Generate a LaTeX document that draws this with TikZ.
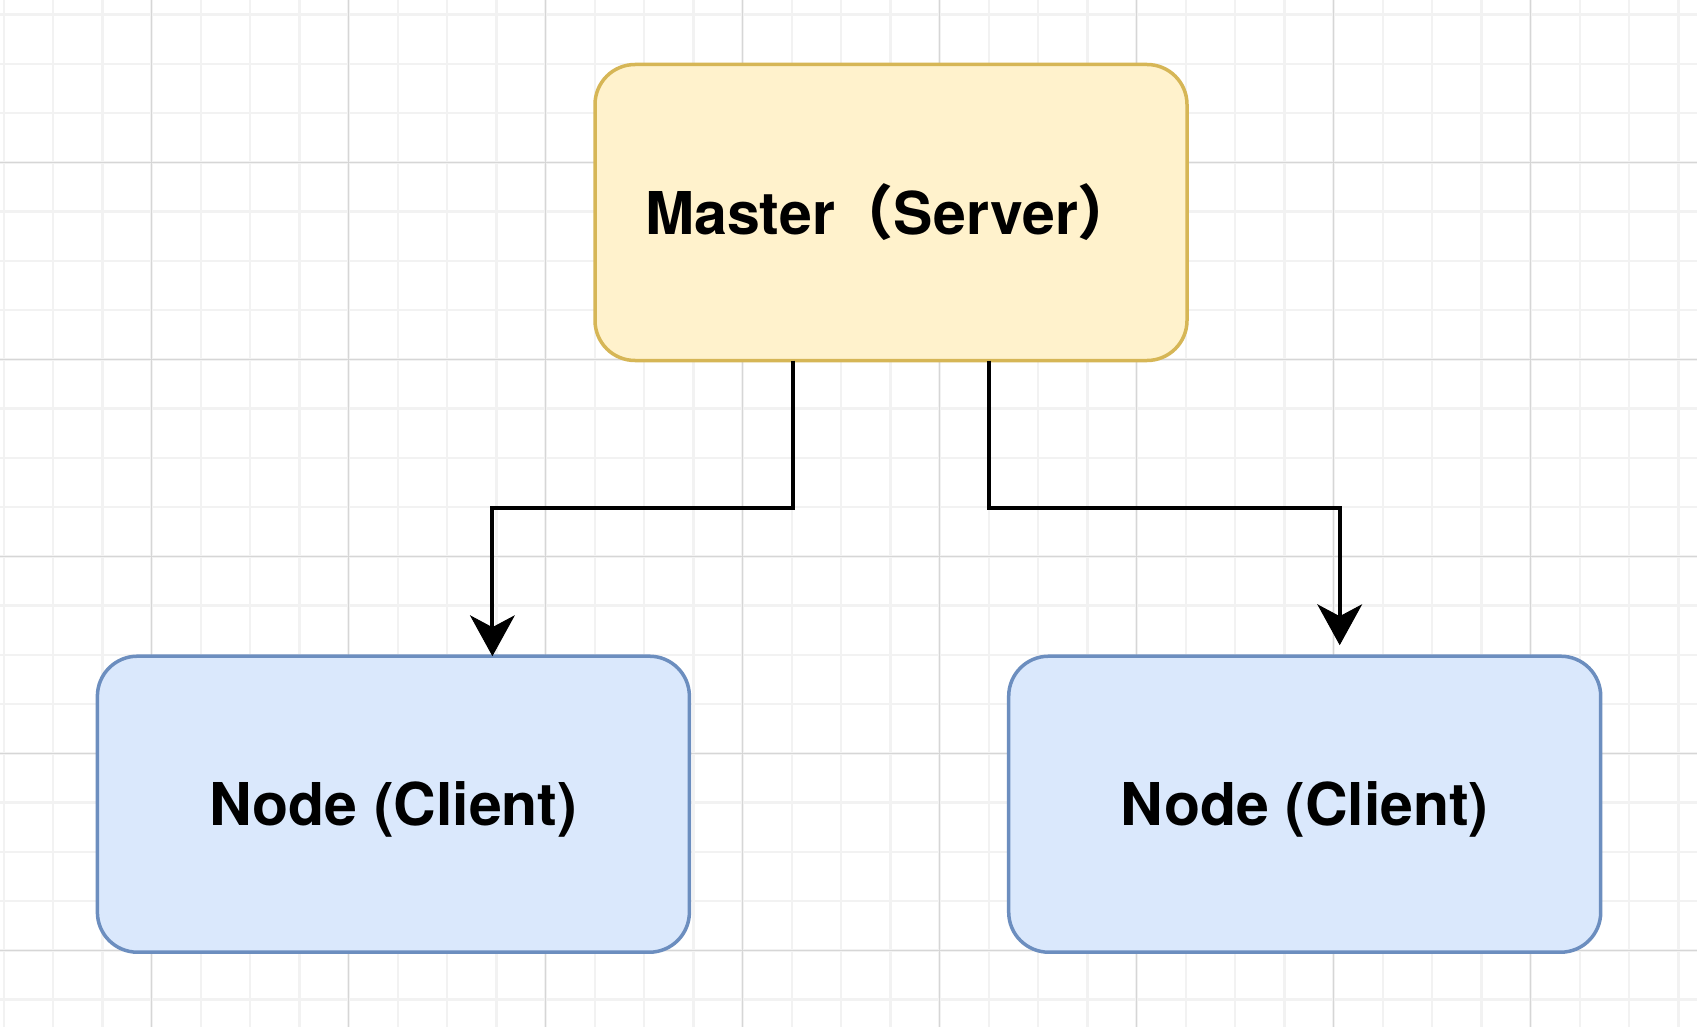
\documentclass[tikz,border=0pt]{standalone}
\usepackage{fontspec}
\setmainfont{TeX Gyre Heros}
\newfontfamily\cjk{Noto Sans CJK SC}
\usetikzlibrary{arrows.meta}
\definecolor{mfill}{HTML}{FFF2CC}
\definecolor{mdraw}{HTML}{D6B656}
\definecolor{nfill}{HTML}{DAE8FC}
\definecolor{ndraw}{HTML}{6C8EBF}
\definecolor{gminor}{HTML}{F2F2F2}
\definecolor{gmajor}{HTML}{D6D6D6}
\tikzset{
  box/.style={rectangle, rounded corners=40pt, line width=3.5pt, minimum width=592pt,
    minimum height=296pt, inner sep=0pt, outer sep=0pt,
    font=\fontsize{59pt}{69pt}\selectfont\bfseries},
  masterbox/.style={box, fill=mfill, draw=mdraw},
  clientbox/.style={box, fill=nfill, draw=ndraw},
  arr/.style={line width=4pt, -{Stealth[length=41pt,width=45pt,inset=12pt,line width=1pt,fill=black]}},
  minorline/.style={draw=gminor, line width=2.5pt},
  majorline/.style={draw=gmajor, line width=1.5pt}
}
\begin{document}
\begin{tikzpicture}[x=1pt,y=-1pt]
\useasboundingbox[fill=white] (0,0) rectangle (1697,1027);
% grid
\foreach \i in {0,...,34} {
  \pgfmathsetmacro{\xx}{3.75+49.25*\i}
  \draw[minorline] (\xx,0) -- (\xx,1027);
}
\foreach \j in {0,...,20} {
  \pgfmathsetmacro{\yy}{14.55+49.25*\j}
  \draw[minorline] (0,\yy) -- (1697,\yy);
}
\foreach \i in {0,...,7} {
  \pgfmathsetmacro{\xx}{151.5+197*\i}
  \draw[majorline] (\xx,0) -- (\xx,1027);
}
\foreach \j in {0,...,4} {
  \pgfmathsetmacro{\yy}{162.3+197*\j}
  \draw[majorline] (0,\yy) -- (1697,\yy);
}
% nodes
\node[masterbox] (m) at (891,212.5) {Master{\cjk （}Server{\cjk ）}};
\node[clientbox] (l) at (393.4,804.2) {\raisebox{-5pt}[\height][\depth]{Node (Client)}};
\node[clientbox] (r) at (1304.7,804.2) {\raisebox{-5pt}[\height][\depth]{Node (Client)}};
% connectors
\draw[arr] ([xshift=-98pt]m.south) -- ++(0,147.6) -| ([xshift=99pt]l.north);
\draw[arr] ([xshift=98pt]m.south) -- ++(0,147.6) -| ([xshift=35pt,yshift=11pt]r.north);
\end{tikzpicture}
\end{document}
